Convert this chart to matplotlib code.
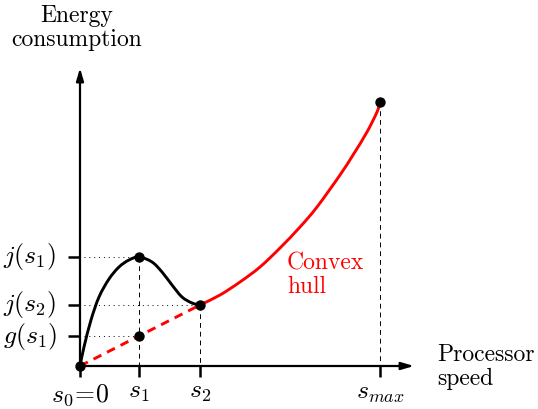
import matplotlib.pyplot as plt
from matplotlib.path import Path
from matplotlib.patches import PathPatch
import numpy as np

plt.rcParams['font.family'] = 'cmr10'
plt.rcParams['mathtext.fontset'] = 'cm'
plt.rcParams['axes.unicode_minus'] = False

# key speeds and energies (units, origin at s0)
speeds = {'s0': 0, 's1': 59, 's2': 120, 'smax': 300}
j_s1 = 109
j_s2 = 61
g_s1 = 30
e_max = 264

# black energy curve from s0 to s2
black_x = [0, 4, 11, 19, 29, 39, 49, 59, 72, 82, 92, 102, 112, 120]
black_y = [0, 19, 46, 69, 87, 99, 106, 109, 104, 94, 81, 69, 63, 61]

# red convex part from s2 to smax
red_x = [120, 140, 160, 180, 200, 220, 237, 260, 273, 287, 297, 300]
red_y = [61, 71, 84, 99, 118, 139, 159, 191, 211, 234, 254, 264]


def smooth_path(xs, ys):
    # catmull-rom through the points, drawn as cubic bezier segments
    p = np.column_stack([xs, ys]).astype(float)
    ext = np.vstack([2 * p[0] - p[1], p, 2 * p[-1] - p[-2]])
    verts = [p[0]]
    codes = [Path.MOVETO]
    for i in range(1, len(ext) - 2):
        p0, p1, p2, p3 = ext[i - 1], ext[i], ext[i + 1], ext[i + 2]
        verts += [p1 + (p2 - p0) / 6, p2 - (p3 - p1) / 6, p2]
        codes += [Path.CURVE4] * 3
    return Path(verts, codes)


fig = plt.figure(figsize=(5.38, 4.09), dpi=100)
ax = fig.add_axes([0, 0, 1, 1])
ax.set_xlim(-80, 458)
ax.set_ylim(-43, 366)
ax.axis('off')

# axes with arrows
arrow = dict(arrowstyle='-|>,head_length=0.75,head_width=0.22', lw=1.6, color='black',
             shrinkA=0, shrinkB=0)
ax.annotate('', xy=(334, 0), xytext=(-1, 0), arrowprops=arrow)
ax.annotate('', xy=(0, 298), xytext=(0, -1), arrowprops=arrow)

# ticks
for s in speeds.values():
    ax.plot([s, s], [0, -11], color='black', lw=1.8, solid_capstyle='butt')
for e in [j_s1, j_s2, g_s1]:
    ax.plot([0, -12], [e, e], color='black', lw=1.8, solid_capstyle='butt')

# guide lines
for e, s in [(j_s1, speeds['s1']), (j_s2, speeds['s2']), (g_s1, speeds['s1'])]:
    ax.plot([4, s], [e, e], color='black', lw=0.7, ls=(0, (1, 4)))
for e, s in [(j_s1, speeds['s1']), (j_s2, speeds['s2']), (e_max, speeds['smax'])]:
    ax.plot([s, s], [e, 0], color='black', lw=0.7, ls=(0, (5, 4)))

# curves
ax.add_patch(PathPatch(smooth_path(black_x, black_y), fill=False, edgecolor='black', lw=2.1,
                       capstyle='round', zorder=3))
ax.add_patch(PathPatch(smooth_path(red_x, red_y), fill=False, edgecolor='red', lw=2.1,
                       capstyle='round', zorder=3))
ax.plot([speeds['s0'], speeds['s2']], [0, j_s2], color='red', lw=2.1, ls=(0, (3, 2.2)), zorder=3)

# points
pts_x = [speeds['s0'], speeds['s1'], speeds['s2'], speeds['smax'], speeds['s1']]
pts_y = [0, j_s1, j_s2, e_max, g_s1]
ax.scatter(pts_x, pts_y, s=42, color='black', zorder=5)

# labels
fs = 17
ms = 18.5
ax.text(-3, 338, 'Energy\nconsumption', ha='center', va='center', fontsize=fs, linespacing=1.1)
ax.text(357, -1, 'Processor\nspeed', ha='left', va='center', fontsize=fs, linespacing=1.1)
ax.text(207, 91, 'Convex\nhull', ha='left', va='center', fontsize=fs, color='red', linespacing=1.1)

ax.text(speeds['s0'], -29, r'$s_0\!=\!0$', ha='center', va='center', fontsize=ms)
ax.text(speeds['s1'], -26, r'$s_1$', ha='center', va='center', fontsize=ms)
ax.text(speeds['s2'], -26, r'$s_2$', ha='center', va='center', fontsize=ms)
ax.text(speeds['smax'], -27, r'$s_{max}$', ha='center', va='center', fontsize=ms)

ax.text(-50, j_s1, r'$j(s_1)$', ha='center', va='center', fontsize=ms)
ax.text(-50, j_s2, r'$j(s_2)$', ha='center', va='center', fontsize=ms)
ax.text(-50, g_s1, r'$g(s_1)$', ha='center', va='center', fontsize=ms)

fig.savefig('out.png', dpi=100)
